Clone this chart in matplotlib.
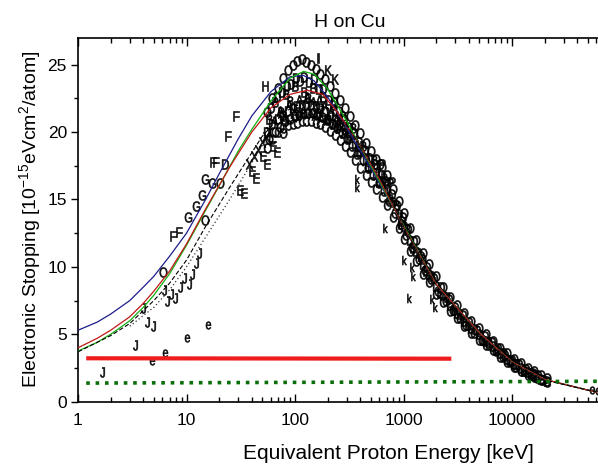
import matplotlib
matplotlib.use("Agg")
import matplotlib.pyplot as plt
from matplotlib.ticker import LogLocator, MultipleLocator, FixedLocator
from matplotlib.textpath import TextPath
from matplotlib.font_manager import FontProperties
from matplotlib.transforms import Affine2D

plt.rcParams["font.family"] = ["Liberation Sans", "DejaVu Sans"]
plt.rcParams["mathtext.fontset"] = "custom"
plt.rcParams["mathtext.rm"] = "Liberation Sans"
plt.rcParams["mathtext.it"] = "Liberation Sans"

# --- model curves (energy keV, stopping 1e-15 eV cm2/atom) ---
blue_e = [1, 1.5, 2, 3, 4, 5, 7, 10, 15, 20, 30, 40, 60, 90, 120, 150, 200, 300, 500, 800, 1000, 2000, 5000, 10000, 20000, 60000]
blue_s = [5.3, 5.9, 6.5, 7.5, 8.5, 9.3, 10.8, 12.5, 15.0, 16.9, 19.5, 21.2, 23.0, 24.1, 24.2, 23.8, 22.6, 20.3, 17.3, 14.5, 13.0, 8.7, 5.1, 2.95, 1.65, 0.7]

green_e = [1, 1.5, 2, 3, 4, 5, 7, 10, 15, 20, 30, 40, 60, 90, 120, 150, 200, 300, 500, 800, 1000, 2000, 5000, 10000, 20000, 60000]
green_s = [3.75, 4.4, 5.0, 6.0, 7.0, 7.9, 9.5, 11.6, 14.2, 16.0, 18.6, 20.2, 22.3, 24.0, 24.5, 24.3, 23.2, 20.8, 17.5, 14.5, 13.1, 8.7, 5.1, 2.95, 1.65, 0.7]

red_e = [1, 1.5, 2, 3, 4, 5, 7, 10, 15, 25, 40, 60, 90, 130, 180, 250, 400, 600, 1000, 2000, 5000, 10000, 20000, 60000]
red_s = [4.0, 4.7, 5.3, 6.3, 7.3, 8.2, 9.7, 11.7, 14.3, 17.4, 20.0, 21.8, 22.8, 23.1, 22.8, 21.4, 19.0, 16.5, 13.0, 8.7, 5.1, 2.95, 1.65, 0.7]

dash_e = [1, 2, 3, 5, 7, 10, 15, 25, 50, 80, 120, 200, 300, 600, 1000, 2000, 5000, 10000, 20000, 60000]
dash_s = [3.7, 4.9, 5.8, 7.5, 8.8, 10.5, 13.0, 15.9, 19.7, 21.5, 22.2, 21.8, 20.5, 16.8, 13.0, 8.6, 5.0, 2.9, 1.6, 0.72]

dot_e = [3, 5, 7, 10, 15, 25, 50, 100, 150, 250, 400, 700, 1000, 2000, 5000, 10000, 20000]
dot_s = [5.6, 7.0, 8.3, 10.0, 12.2, 15.0, 19.0, 21.5, 22.0, 21.2, 19.0, 15.5, 13.0, 8.6, 5.0, 2.9, 1.6]

# --- horizontal reference lines ---
red_line_e = [1.19, 2760]
red_line_s = [3.22, 3.19]
green_line_e = [1.19, 100000]
green_line_s = [1.38, 1.52]

# --- experimental data (letter symbols) ---
band_e = [55, 62, 70, 78, 86, 95, 105, 115, 125, 140, 155, 170, 190, 210, 235, 260, 290, 320, 360, 400,
          450, 500, 560, 630, 700, 800, 900, 1000, 1150, 1300, 1500, 1700, 2000, 2300, 2700, 3100, 3600,
          4200, 5000, 5800, 6700, 7800, 9000, 10500, 12000, 14000, 16000, 18500, 21000]
band_mid = [20.0, 20.6, 21.0, 21.3, 21.6, 21.8, 21.9, 22.0, 22.0, 22.0, 21.9, 21.8, 21.6, 21.3, 21.0, 20.7,
            20.2, 19.8, 19.2, 18.6, 18.0, 17.5, 17.0, 16.4, 15.8, 14.8, 13.9, 13.0, 12.0, 11.2, 10.2, 9.5,
            8.6, 7.9, 7.2, 6.6, 6.0, 5.5, 5.0, 4.5, 4.1, 3.6, 3.2, 2.8, 2.5, 2.2, 1.95, 1.7, 1.55]
band_high = [21.5, 22.5, 23.3, 24.0, 24.6, 25.0, 25.3, 25.4, 25.2, 25.0, 24.7, 24.3, 23.9, 23.4, 22.9, 22.4,
             21.8, 21.2, 20.5, 19.9, 19.2, 18.6, 18.0, 17.4, 16.8, 15.8, 14.9, 14.0, 12.9, 12.0, 11.0, 10.2,
             9.3, 8.5, 7.8, 7.2, 6.6, 6.0, 5.5, 5.0, 4.5, 4.0, 3.6, 3.2, 2.85, 2.5, 2.25, 1.95, 1.75]
band_low = [18.8, 19.5, 20.0, 20.3, 20.5, 20.6, 20.7, 20.8, 20.8, 20.8, 20.7, 20.6, 20.4, 20.1, 19.8, 19.4,
            19.0, 18.5, 17.9, 17.3, 16.8, 16.3, 15.8, 15.2, 14.6, 13.7, 12.9, 12.1, 11.2, 10.4, 9.5, 8.9,
            8.0, 7.4, 6.7, 6.2, 5.6, 5.1, 4.6, 4.2, 3.8, 3.3, 2.95, 2.6, 2.3, 2.0, 1.8, 1.6, 1.45]

band2_e = [60, 68, 76, 84, 92, 102, 112, 122, 135, 150, 165, 182, 205, 228, 255, 285, 315, 350, 390, 440,
           490, 550, 620, 690, 780, 880, 980, 1100, 1250, 1450, 1650, 1900, 2200, 2600, 3000, 3500, 4000,
           4800, 5600, 6500, 7500, 8700, 10000, 11500, 13500, 15500, 17500]
band2_s = [21.8, 22.6, 23.0, 23.4, 23.6, 24.0, 23.8, 24.1, 23.7, 23.9, 23.2, 23.2, 22.4, 22.2, 21.6, 21.0,
           20.4, 19.9, 19.3, 18.7, 18.1, 17.6, 16.9, 16.4, 15.4, 14.6, 13.7, 12.8, 11.9, 10.8, 10.0, 9.2,
           8.5, 7.6, 7.0, 6.4, 5.9, 5.3, 4.9, 4.4, 3.95, 3.5, 3.1, 2.8, 2.45, 2.15, 1.95]

band3_e = [57, 65, 73, 81, 89, 99, 108, 118, 130, 145, 160, 176, 196, 218, 242, 270, 300, 335, 375, 420,
           470, 525, 590, 660, 740, 840, 940, 1050, 1200, 1380, 1580, 1800, 2100, 2450, 2850, 3300, 3800,
           4500, 5300, 6100, 7100, 8200, 9500, 11000, 13000, 15000, 17000, 19500]
band3_s = [19.5, 20.0, 20.4, 20.8, 21.0, 21.2, 21.3, 21.4, 21.4, 21.4, 21.3, 21.1, 20.9, 20.6, 20.3, 19.9,
           19.5, 19.0, 18.4, 17.9, 17.3, 16.8, 16.2, 15.6, 14.9, 14.0, 13.2, 12.4, 11.5, 10.6, 9.8, 9.1,
           8.2, 7.5, 6.8, 6.2, 5.7, 5.1, 4.6, 4.2, 3.75, 3.35, 2.95, 2.6, 2.25, 1.98, 1.78, 1.6]

mix_e = [58, 66, 74, 82, 90, 100, 110, 120, 132, 148, 162, 180, 200, 222, 248, 275, 305, 340, 380, 425, 475,
         530, 600, 660, 750, 850, 950, 1080, 1220, 1400, 1600, 1850, 2150, 2500, 2900, 3350, 3900, 4600,
         5400, 6200, 7200, 8400, 9700, 11200, 13000, 15000]
mix_s = [21.0, 22.2, 21.5, 22.8, 22.3, 23.4, 21.5, 23.0, 22.5, 23.3, 21.4, 22.6, 21.0, 22.0, 20.5, 21.2,
         19.6, 20.3, 18.6, 19.0, 17.5, 17.9, 16.3, 16.6, 15.0, 14.6, 13.2, 12.8, 11.4, 11.0, 9.7, 9.3,
         8.1, 7.8, 6.8, 6.5, 5.7, 5.4, 4.6, 4.4, 3.8, 3.6, 3.0, 2.8, 2.3, 2.15]

peak_e = [64, 72, 80, 88, 97, 108, 118, 128, 137, 145, 152, 165, 175, 185, 196, 215, 228, 242, 255, 268, 282, 298]
peak_s = [20.8, 21.6, 21.0, 22.0, 21.4, 22.4, 21.6, 22.6, 21.4, 22.2, 21.3, 22.4, 21.0, 21.9, 20.9, 21.6,
          20.6, 21.2, 20.3, 20.8, 19.9, 20.4]

tail_e = [38, 42, 46, 50, 54, 58]
tail_s = [17.6, 18.2, 18.7, 19.3, 19.6, 20.0]

F_e = [7.5, 8.6, 17.5, 18.8, 24.3, 28.5]
F_s = [12.3, 12.6, 17.8, 17.8, 19.7, 21.2]
G_e = [10.3, 12.3, 14.0, 14.7, 17.0]
G_s = [13.7, 14.5, 15.3, 16.5, 16.2]
J_e = [1.65, 3.35, 4.3, 4.9, 3.97, 6.6, 7.2, 7.9, 8.7, 9.4, 10.5, 12.3, 13.0, 6.2, 11.2]
J_s = [2.2, 4.2, 5.9, 5.6, 6.95, 7.5, 8.0, 7.7, 8.5, 9.2, 8.7, 10.3, 11.0, 8.3, 9.5]
e_e = [4.77, 6.3, 10.0, 15.9, 55000, 62000]
e_s = [3.0, 3.6, 4.7, 5.7, 0.85, 0.8]
E_e = [31, 34, 40, 44, 51, 55, 63, 68]
E_s = [15.7, 15.5, 17.1, 16.6, 18.2, 17.6, 19.0, 18.5]
k_e = [370, 370, 675, 1000, 1230, 1130, 1950, 1850, 1200]
k_s = [16.5, 15.9, 12.9, 10.5, 9.3, 7.7, 7.05, 7.6, 10.0]
O_e = [6.1, 14.7, 20.3, 78, 605, 1470]
O_s = [9.65, 13.5, 16.2, 19.9, 17.6, 10.6]
D_e = [22.7, 960]
D_s = [17.6, 13.4]
P_e = [630, 780, 750]
P_s = [17.6, 16.3, 16.2]
H_e = [53]
H_s = [23.4]
I_e = [164]
I_s = [25.5]
K_e = [233, 200]
K_s = [23.9, 24.6]

fig = plt.figure(figsize=(5.98, 4.67), dpi=100)
ax = fig.add_axes([78 / 598, 65.3 / 467, 542.5 / 598, 364 / 467])

glyph_font = FontProperties(family="Liberation Sans")


def glyph(ch, sx=0.78):
    # narrow, centred letter outline used as a marker
    tp = TextPath((0, 0), ch, size=1, prop=glyph_font)
    bb = tp.get_extents()
    cx, cy = (bb.x0 + bb.x1) / 2, (bb.y0 + bb.y1) / 2
    return Affine2D().translate(-cx, -cy).scale(sx, 1).transform_path(tp)


def letters(xs, ys, ch, size=7.2, alpha=0.9):
    ax.plot(xs, ys, linestyle="none", marker=glyph(ch), markersize=size,
            color="black", markeredgecolor="black", markeredgewidth=0.45, alpha=alpha, zorder=2)


# dense experimental band
letters(band_e, band_high, "O")
letters(band2_e, band2_s, "D")
letters(band_e, band_mid, "D")
letters(band3_e, band3_s, "O")
letters(band_e, band_low, "C")
letters(mix_e, mix_s, "B")
letters(peak_e, peak_s, "A")
letters(tail_e, tail_s, "X")

letters(F_e, F_s, "F")
letters(G_e, G_s, "G")
letters(J_e, J_s, "J")
letters(e_e, e_s, "e", size=5.5)
letters(E_e, E_s, "E")
letters(k_e, k_s, "k", size=6.5)
letters(O_e, O_s, "O")
letters(D_e, D_s, "D")
letters(P_e, P_s, "P")
letters(H_e, H_s, "H")
letters(I_e, I_s, "I")
letters(K_e, K_s, "K")

# model curves
ax.plot(blue_e, blue_s, color="#1c1c8a", lw=0.9, zorder=3)
ax.plot(green_e, green_s, color="#10b010", lw=0.9, zorder=3)
ax.plot(red_e, red_s, color="#c01818", lw=0.9, zorder=3)
ax.plot(dash_e, dash_s, color="black", lw=0.8, ls=(0, (4, 2)), zorder=3)
ax.plot(dot_e, dot_s, color="#333333", lw=0.9, ls=(0, (1, 2)), zorder=3)

# horizontal lines
ax.plot(red_line_e, red_line_s, color="#ee1c1c", lw=3, solid_capstyle="butt", zorder=4)
ax.plot(green_line_e, green_line_s, color="#0a6e0a", lw=2.6, ls=(0, (1, 1.6)), zorder=4)

ax.set_xscale("log")
ax.set_xlim(1, 100000)
ax.set_ylim(0, 27)
ax.xaxis.set_major_locator(FixedLocator([1, 10, 100, 1000, 10000]))
ax.xaxis.set_minor_locator(LogLocator(base=10, subs=range(2, 10), numticks=20))
ax.set_xticklabels(["1", "10", "100", "1000", "10000"])
ax.yaxis.set_major_locator(MultipleLocator(5))
ax.yaxis.set_minor_locator(MultipleLocator(2.5))

ax.spines["right"].set_visible(False)
for s in ["left", "bottom", "top"]:
    ax.spines[s].set_linewidth(1.2)

ax.tick_params(axis="x", which="major", direction="in", top=True, length=6, width=1, labelsize=12.5, pad=8)
ax.tick_params(axis="x", which="minor", direction="in", top=True, length=3.5, width=1)
ax.tick_params(axis="y", which="major", direction="out", length=5, width=1, labelsize=12.5, pad=3)
ax.tick_params(axis="y", which="minor", direction="out", length=3, width=1)

ax.set_title("H on Cu", fontsize=14, pad=8)
ax.set_xlabel("Equivalent Proton Energy [keV]", fontsize=15)
ax.set_ylabel(r"Electronic Stopping [10$^{-15}$eVcm$^2$/atom]", fontsize=14, labelpad=3)
ax.xaxis.set_label_coords(310.5 / 542.5, -42 / 364)

fig.savefig("out.png", dpi=100)
